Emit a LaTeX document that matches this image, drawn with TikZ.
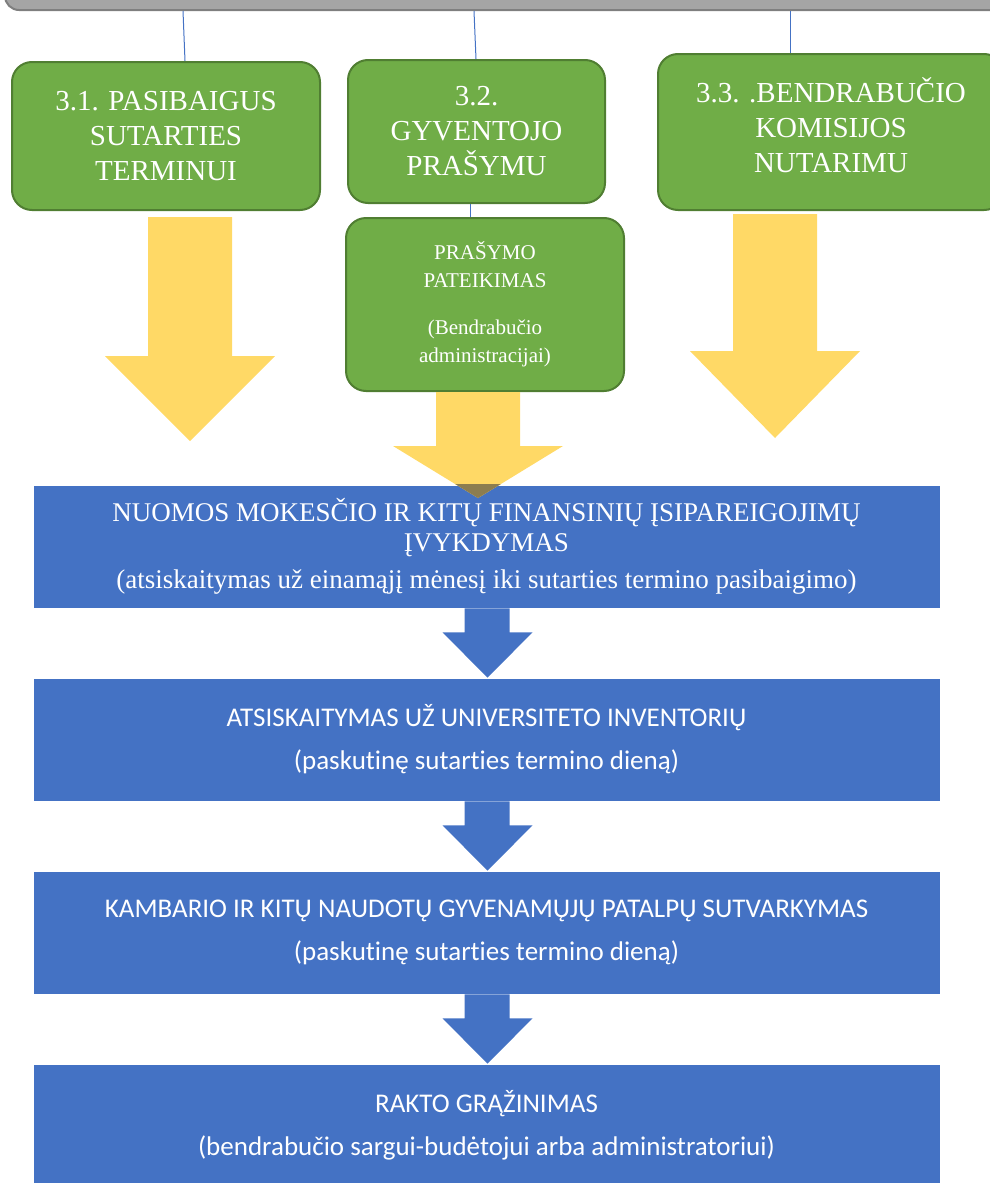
\documentclass[tikz,border=0pt]{standalone}
\usepackage{fontspec}
\setmainfont{Liberation Serif}
\newfontfamily\calibrisub[Ligatures=NoCommon]{Carlito}
\usetikzlibrary{calc}

\definecolor{greenfill}{HTML}{70AD47}
\definecolor{greenedge}{HTML}{507E32}
\definecolor{bluefill}{HTML}{4472C4}
\definecolor{yellowfill}{HTML}{FFD966}
\definecolor{greyfill}{HTML}{A5A5A5}
\definecolor{greyedge}{HTML}{7F7F7F}
\definecolor{overlapfill}{RGB}{140,125,80}

% fat yellow arrow below a node: [style]{node}{x offset}{gap}{shaft}{head}
\newcommand{\yellowdown}[6][yarrow]{%
  \fill[#1] ($(#2.south)+(#3-42,#4)$) -- ($(#2.south)+(#3+42,#4)$)
    -- ($(#2.south)+(#3+42,#4+#5)$) -- ($(#2.south)+(#3+85,#4+#5)$)
    -- ($(#2.south)+(#3,#4+#5+#6)$) -- ($(#2.south)+(#3-85,#4+#5)$)
    -- ($(#2.south)+(#3-42,#4+#5)$) -- cycle;}
% blue block arrow from one step to the next
\newcommand{\bluedown}[2]{%
  \fill[barrow] ($(#1.south)+(-22,0)$) -- ($(#1.south)+(23,0)$)
    -- ($(#1.south)+(23,24)$) -- ($(#1.south)+(46,24)$)
    -- ($(#2.north)+(1,0)$) -- ($(#1.south)+(-44,24)$)
    -- ($(#1.south)+(-22,24)$) -- cycle;}

\begin{document}
\begin{tikzpicture}[x=1pt, y=-1pt,
  every node/.style={text=white, align=center, inner sep=0pt},
  greenbox/.style={draw=greenedge, line width=2pt, fill=greenfill,
                   rounded corners=20pt},
  bluebox/.style={draw=white, line width=0.8pt, fill=bluefill,
                  minimum width=907pt, minimum height=123pt},
  titlefont/.style={font=\fontsize{29}{35}\selectfont},
  stepfont/.style={font=\calibrisub\fontsize{27}{32}\selectfont},
  link/.style={draw=bluefill, line width=1pt},
  yarrow/.style={fill=yellowfill},
  barrow/.style={fill=bluefill}
]
  \useasboundingbox (0,0) rectangle (990,1183);
  \clip (0,0) rectangle (990,1183);

  % --- Parent box (cut off at top) ---
  \node[draw=greyedge, line width=2pt, fill=greyfill, rounded corners=14pt,
        minimum width=1005pt, minimum height=50pt] (top) at (507.5,-15) {};

  % --- Three reasons ---
  \node[greenbox, minimum width=308pt, minimum height=148pt, titlefont] (g1)
    at (166,136) {3.1. PASIBAIGUS\\SUTARTIES\\TERMINUI};
  \node[greenbox, minimum width=257pt, minimum height=143pt, titlefont] (g2)
    at (476.5,131.5) {3.2.\\GYVENTOJO\\PRAŠYMU};
  \node[greenbox, minimum width=346pt, minimum height=156pt, titlefont] (g3)
    at (831,132) {3.3. .BENDRABUČIO\\KOMISIJOS\\NUTARIMU\\[-21pt]};
  \node[greenbox, minimum width=278pt, minimum height=173pt,
        font=\fontsize{21}{28}\selectfont] (g4)
    at (485,304.5) {PRAŠYMO\\PATEIKIMAS\\[19pt](Bendrabučio\\administracijai)};

  % --- Thin links ---
  \draw[link] ($(top.south)+(-324.5,0)$) -- ($(g1.north)+(19,0)$);
  \draw[link] ($(top.south)+(-33.5,0)$) -- ($(g2.north)+(-0.5,0)$);
  \draw[link] ($(top.south)+(282.5,0)$) -- ($(g3.north)+(-41,0)$);
  \draw[link] ($(g2.south)+(-6.5,0)$) -- ($(g4.north)+(-15,0)$);

  % --- Yellow arrows ---
  \yellowdown{g1}{24}{6}{139}{85}
  \yellowdown{g3}{-56}{3}{137}{87}

  % --- Steps ---
  \node[bluebox, font=\fontsize{27}{30}\selectfont] (b1) at (486.5,546.5)
    {NUOMOS MOKESČIO IR KITŲ FINANSINIŲ ĮSIPAREIGOJIMŲ\\ĮVYKDYMAS\\[7pt]%
     (atsiskaitymas už einamąjį mėnesį iki sutarties termino pasibaigimo)};
  \node[bluebox, stepfont] (b2) at (486.5,739.5)
    {ATSISKAITYMAS UŽ UNIVERSITETO INVENTORIŲ\\[11pt](paskutinę sutarties termino dieną)};
  \node[bluebox, stepfont] (b3) at (486.5,932.5)
    {KAMBARIO IR KITŲ NAUDOTŲ GYVENAMŲJŲ PATALPŲ SUTVARKYMAS\\[11pt](paskutinę sutarties termino dieną)};
  \node[bluebox, stepfont] (b4) at (486.5,1125.5)
    {RAKTO GRĄŽINIMAS\\[11pt](bendrabučio sargui-budėtojui arba administratoriui)};

  % --- Middle yellow arrow, tip lying over the first step ---
  \yellowdown{g4}{-7}{0}{54}{52}
  \begin{scope}
    \clip (b1.north west) rectangle (b1.south east);
    \yellowdown[fill=overlapfill]{g4}{-7}{0}{54}{52}
  \end{scope}

  % --- Blue arrows between steps ---
  \bluedown{b1}{b2}
  \bluedown{b2}{b3}
  \bluedown{b3}{b4}

\end{tikzpicture}
\end{document}
